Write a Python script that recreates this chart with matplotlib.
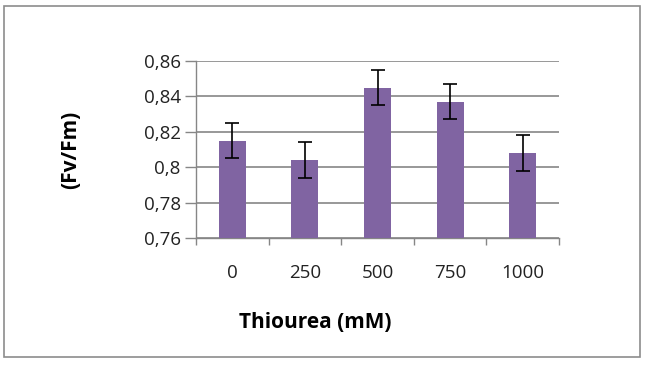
import matplotlib
matplotlib.use("Agg")
import matplotlib.pyplot as plt
from matplotlib.patches import Rectangle
from matplotlib.ticker import FuncFormatter

plt.rcParams["font.family"] = ["Open Sans", "DejaVu Sans"]

doses = ["0", "250", "500", "750", "1000"]
fvfm = [0.815, 0.804, 0.845, 0.837, 0.808]
err = [0.010, 0.010, 0.010, 0.010, 0.010]

PURPLE = "#8064A2"
GRID = "#868686"

fig = plt.figure(figsize=(6.46, 3.66), dpi=100)
ax = fig.add_axes([196/646, 1 - 238/366, (559-196)/646, (238-61)/366])

x = range(len(doses))
ax.bar(x, fvfm, width=0.37, color=PURPLE, zorder=3)
ax.errorbar(x, fvfm, yerr=err, fmt="none", ecolor="black", elinewidth=1.2,
            capsize=5, capthick=1.2, zorder=4)

ax.set_ylim(0.76, 0.86)
ax.set_yticks([0.76, 0.78, 0.80, 0.82, 0.84, 0.86])
ax.yaxis.set_major_formatter(FuncFormatter(lambda v, p: f"{v:.2f}".rstrip("0").replace(".", ",")))
ax.set_xlim(-0.5, len(doses) - 0.5)
ax.set_xticks(list(x))
ax.set_xticklabels(doses)
ax.set_xticks([i - 0.5 for i in range(len(doses) + 1)], minor=True)
ax.tick_params(axis="x", which="major", length=0, pad=19, labelsize=13.5, labelcolor="#222222")
ax.tick_params(axis="x", which="minor", length=5, color=GRID, width=1)
ax.tick_params(axis="y", length=8, color=GRID, width=1, labelsize=13.5, pad=3, labelcolor="#222222")

ax.grid(axis="y", color=GRID, lw=1.2, zorder=0)
for s in ["top", "right"]:
    ax.spines[s].set_visible(False)
for s in ["left", "bottom"]:
    ax.spines[s].set_color(GRID)
    ax.spines[s].set_linewidth(1)

ax.set_ylabel("(Fv/Fm)", fontsize=15, weight="bold")
ax.yaxis.set_label_coords(-0.316, 0.5)
ax.set_xlabel("Thiourea (mM)", fontsize=15, weight="bold")
ax.xaxis.set_label_coords((315 - 196) / (559 - 196), -0.42)

fig.patches.append(Rectangle((4/646, 1 - 357/366), 636/646, 351/366, transform=fig.transFigure,
                             fill=False, edgecolor="#8c8c8c", lw=1.2))

fig.savefig("out.png", dpi=100)
